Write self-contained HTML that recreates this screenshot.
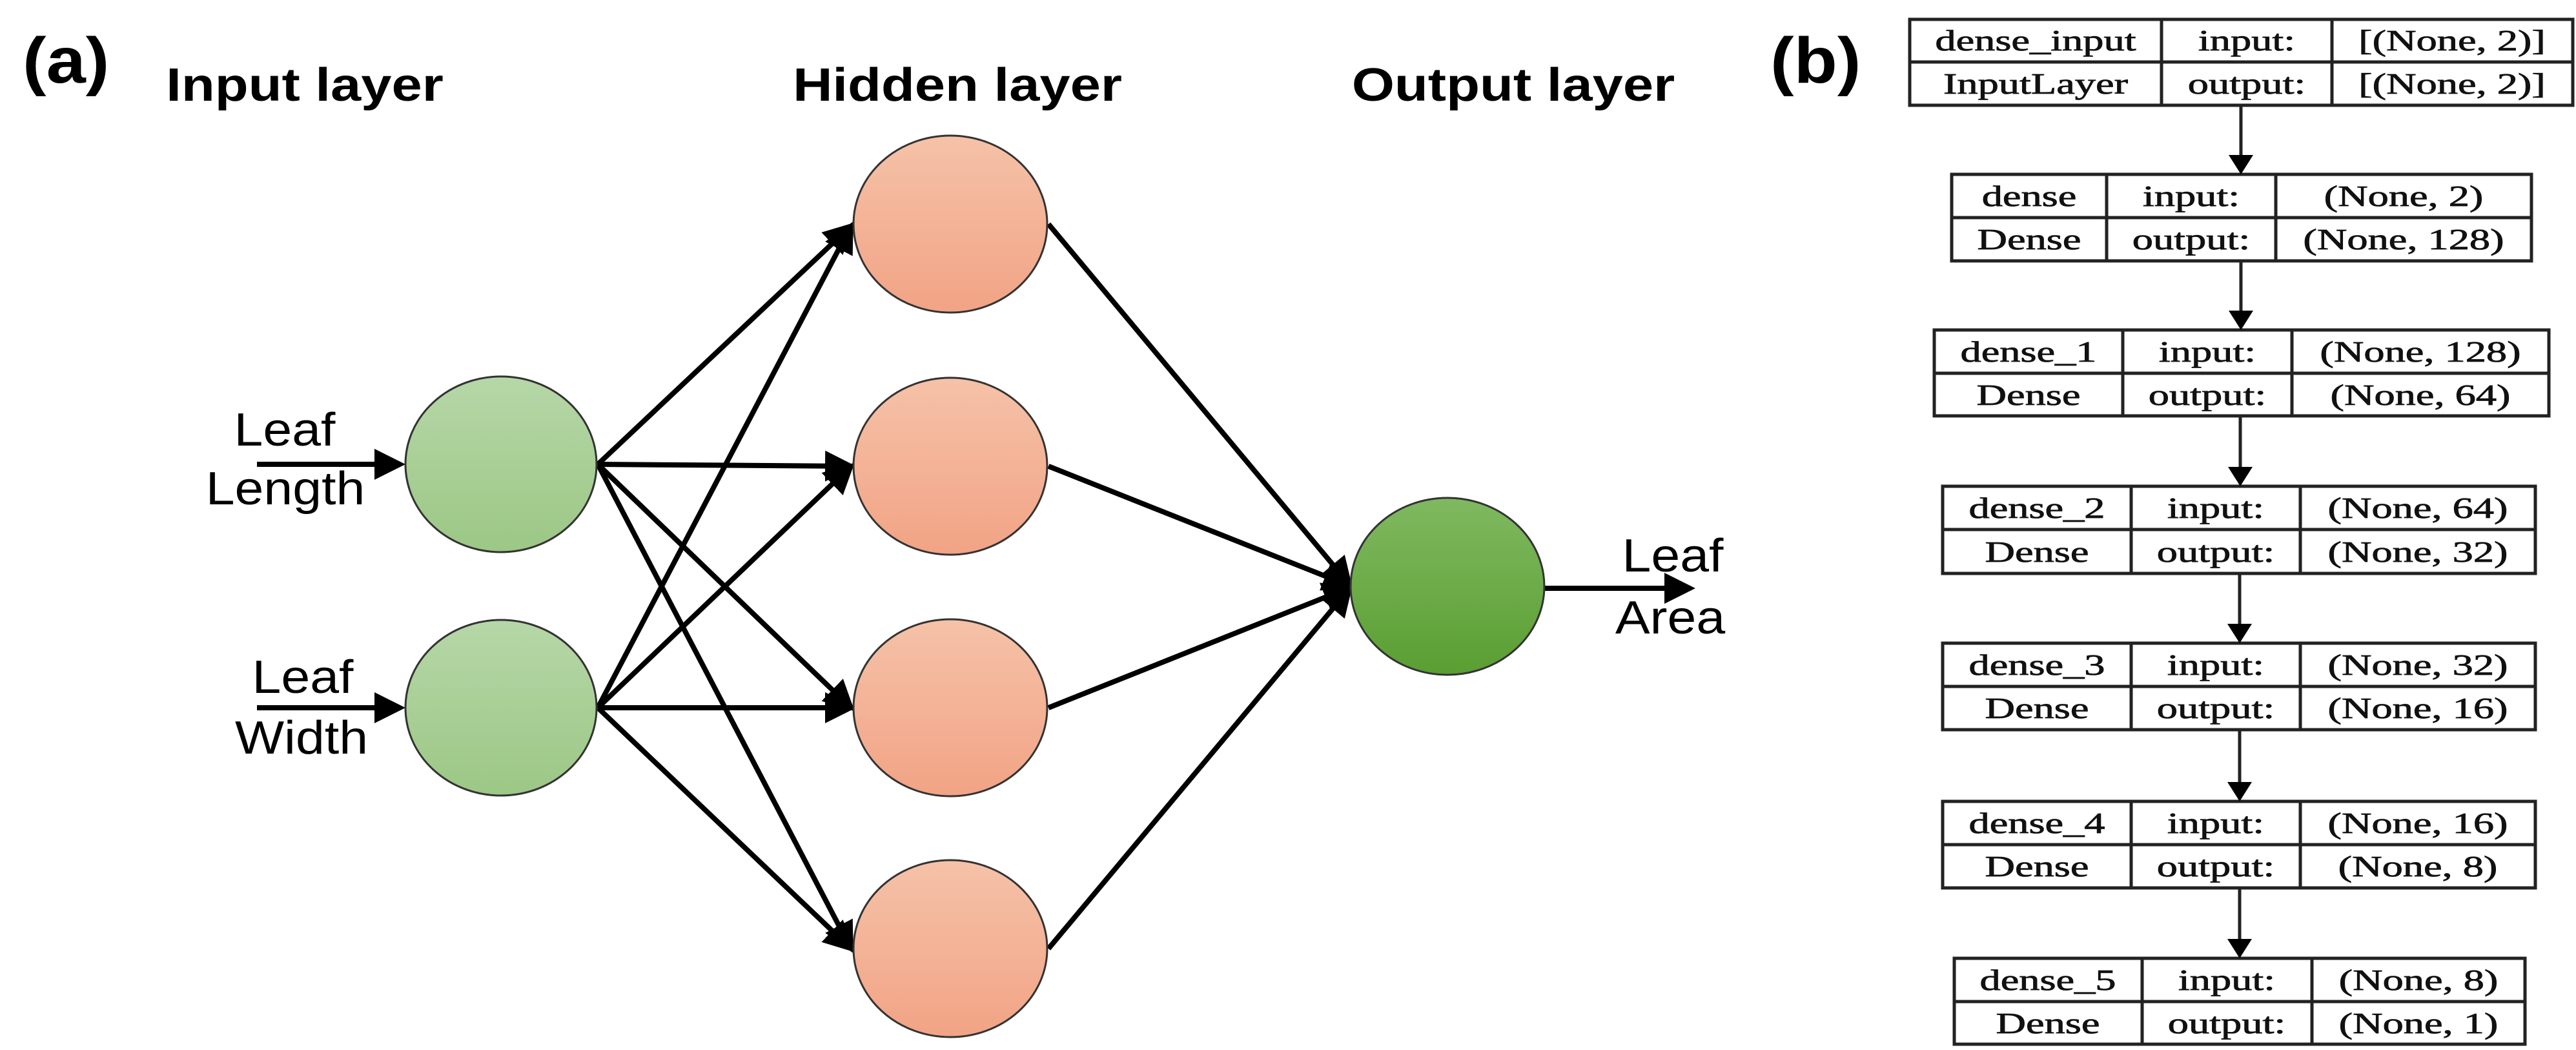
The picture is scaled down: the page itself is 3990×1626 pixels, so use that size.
<!DOCTYPE html>
<html><head><meta charset="utf-8"><style>html,body{margin:0;padding:0;background:#fff}svg{display:block}</style></head>
<body>
<svg width="3990" height="1626" viewBox="0 0 3990 1626" xmlns="http://www.w3.org/2000/svg">
<defs>
<linearGradient id="gi" x1="0" y1="0" x2="0" y2="1"><stop offset="0" stop-color="#b6d7a8"/><stop offset="1" stop-color="#9cc785"/></linearGradient>
<linearGradient id="gh" x1="0" y1="0" x2="0" y2="1"><stop offset="0" stop-color="#f5c2a8"/><stop offset="1" stop-color="#f2a385"/></linearGradient>
<linearGradient id="go" x1="0" y1="0" x2="0" y2="1"><stop offset="0" stop-color="#80b960"/><stop offset="1" stop-color="#5a9e32"/></linearGradient>
<marker id="ah" markerWidth="6" markerHeight="6" refX="5" refY="3" orient="auto" markerUnits="strokeWidth"><path d="M0,0 L6,3 L0,6 z" fill="#000"/></marker>
</defs>
<g font-family="Liberation Sans, Arial, sans-serif" fill="#000">
<text transform="translate(35,128) scale(1.1,1)" font-size="100" font-weight="bold">(a)</text>
<text transform="translate(472,156) scale(1.18,1)" font-size="72" font-weight="bold" text-anchor="middle">Input layer</text>
<text transform="translate(1483,156) scale(1.18,1)" font-size="72" font-weight="bold" text-anchor="middle">Hidden layer</text>
<text transform="translate(2344,156) scale(1.18,1)" font-size="72" font-weight="bold" text-anchor="middle">Output layer</text>
<text transform="translate(441,690) scale(1.12,1)" font-size="72" text-anchor="middle">Leaf</text>
<text transform="translate(442,781) scale(1.12,1)" font-size="72" text-anchor="middle">Length</text>
<text transform="translate(469,1073) scale(1.12,1)" font-size="72" text-anchor="middle">Leaf</text>
<text transform="translate(467,1167) scale(1.12,1)" font-size="72" text-anchor="middle">Width</text>
<text transform="translate(2591,885) scale(1.12,1)" font-size="72" text-anchor="middle">Leaf</text>
<text transform="translate(2587,981) scale(1.12,1)" font-size="72" text-anchor="middle">Area</text>
</g>
<g stroke="#000" stroke-width="8" fill="none" marker-end="url(#ah)">
<line x1="398" y1="719" x2="620" y2="719"/>
<line x1="398" y1="1096" x2="620" y2="1096"/>
<line x1="2393" y1="911" x2="2618" y2="911"/>
<line x1="926" y1="719" x2="1318" y2="350"/>
<line x1="926" y1="719" x2="1318" y2="722"/>
<line x1="926" y1="719" x2="1318" y2="1096"/>
<line x1="926" y1="719" x2="1318" y2="1469"/>
<line x1="926" y1="1096" x2="1318" y2="350"/>
<line x1="926" y1="1096" x2="1318" y2="722"/>
<line x1="926" y1="1096" x2="1318" y2="1096"/>
<line x1="926" y1="1096" x2="1318" y2="1469"/>
<line x1="1624" y1="347" x2="2090" y2="905"/>
<line x1="1624" y1="722" x2="2090" y2="907"/>
<line x1="1624" y1="1096" x2="2090" y2="910"/>
<line x1="1624" y1="1469" x2="2090" y2="912"/>
</g>
<g stroke="#333" stroke-width="3">
<ellipse cx="776" cy="719" rx="148" ry="136" fill="url(#gi)"/>
<ellipse cx="776" cy="1096" rx="148" ry="136" fill="url(#gi)"/>
<ellipse cx="1472" cy="347" rx="150" ry="137" fill="url(#gh)"/>
<ellipse cx="1472" cy="722" rx="150" ry="137" fill="url(#gh)"/>
<ellipse cx="1472" cy="1096" rx="150" ry="137" fill="url(#gh)"/>
<ellipse cx="1472" cy="1469" rx="150" ry="137" fill="url(#gh)"/>
<ellipse cx="2242" cy="908" rx="150" ry="137" fill="url(#go)"/>
</g>
<text transform="translate(2742,128) scale(1.1,1)" font-family="Liberation Sans, Arial, sans-serif" font-size="100" font-weight="bold">(b)</text>
<g stroke="#222" stroke-width="5" fill="none">
<rect x="2958" y="30" width="1027" height="133"/><line x1="2958" y1="96" x2="3985" y2="96"/><line x1="3348" y1="30" x2="3348" y2="163"/><line x1="3612" y1="30" x2="3612" y2="163"/>
<rect x="3023" y="270" width="898" height="134"/><line x1="3023" y1="337" x2="3921" y2="337"/><line x1="3263" y1="270" x2="3263" y2="404"/><line x1="3525" y1="270" x2="3525" y2="404"/>
<rect x="2996" y="511" width="952" height="133"/><line x1="2996" y1="578" x2="3948" y2="578"/><line x1="3288" y1="511" x2="3288" y2="644"/><line x1="3550" y1="511" x2="3550" y2="644"/>
<rect x="3009" y="753" width="918" height="135"/><line x1="3009" y1="820" x2="3927" y2="820"/><line x1="3301" y1="753" x2="3301" y2="888"/><line x1="3563" y1="753" x2="3563" y2="888"/>
<rect x="3009" y="996" width="918" height="134"/><line x1="3009" y1="1063" x2="3927" y2="1063"/><line x1="3301" y1="996" x2="3301" y2="1130"/><line x1="3563" y1="996" x2="3563" y2="1130"/>
<rect x="3009" y="1241" width="918" height="134"/><line x1="3009" y1="1308" x2="3927" y2="1308"/><line x1="3301" y1="1241" x2="3301" y2="1375"/><line x1="3563" y1="1241" x2="3563" y2="1375"/>
<rect x="3027" y="1484" width="884" height="133"/><line x1="3027" y1="1551" x2="3911" y2="1551"/><line x1="3318" y1="1484" x2="3318" y2="1617"/><line x1="3581" y1="1484" x2="3581" y2="1617"/>
<line x1="3471" y1="163" x2="3471" y2="245"/><line x1="3471" y1="404" x2="3471" y2="486"/><line x1="3470" y1="644" x2="3470" y2="728"/><line x1="3469" y1="888" x2="3469" y2="971"/><line x1="3469" y1="1130" x2="3469" y2="1216"/><line x1="3469" y1="1375" x2="3469" y2="1459"/>
</g>
<g fill="#000">
<path d="M3452,240 L3490,240 L3471,270 z"/><path d="M3452,481 L3490,481 L3471,511 z"/><path d="M3451,723 L3489,723 L3470,753 z"/><path d="M3450,966 L3488,966 L3469,996 z"/><path d="M3450,1211 L3488,1211 L3469,1241 z"/><path d="M3450,1454 L3488,1454 L3469,1484 z"/>
</g>
<g font-family="Liberation Serif, 'Times New Roman', serif" font-size="46" fill="#111" stroke="#111" stroke-width="0.8" text-anchor="middle">
<text transform="translate(3153,78) scale(1.4,1)">dense_input</text><text transform="translate(3480,78) scale(1.4,1)">input:</text><text transform="translate(3798,78) scale(1.4,1)">[(None, 2)]</text>
<text transform="translate(3153,145) scale(1.4,1)">InputLayer</text><text transform="translate(3480,145) scale(1.4,1)">output:</text><text transform="translate(3798,145) scale(1.4,1)">[(None, 2)]</text>
<text transform="translate(3143,319) scale(1.4,1)">dense</text><text transform="translate(3394,319) scale(1.4,1)">input:</text><text transform="translate(3723,319) scale(1.4,1)">(None, 2)</text>
<text transform="translate(3143,386) scale(1.4,1)">Dense</text><text transform="translate(3394,386) scale(1.4,1)">output:</text><text transform="translate(3723,386) scale(1.4,1)">(None, 128)</text>
<text transform="translate(3142,560) scale(1.4,1)">dense_1</text><text transform="translate(3419,560) scale(1.4,1)">input:</text><text transform="translate(3749,560) scale(1.4,1)">(None, 128)</text>
<text transform="translate(3142,627) scale(1.4,1)">Dense</text><text transform="translate(3419,627) scale(1.4,1)">output:</text><text transform="translate(3749,627) scale(1.4,1)">(None, 64)</text>
<text transform="translate(3155,802) scale(1.4,1)">dense_2</text><text transform="translate(3432,802) scale(1.4,1)">input:</text><text transform="translate(3745,802) scale(1.4,1)">(None, 64)</text>
<text transform="translate(3155,870) scale(1.4,1)">Dense</text><text transform="translate(3432,870) scale(1.4,1)">output:</text><text transform="translate(3745,870) scale(1.4,1)">(None, 32)</text>
<text transform="translate(3155,1045) scale(1.4,1)">dense_3</text><text transform="translate(3432,1045) scale(1.4,1)">input:</text><text transform="translate(3745,1045) scale(1.4,1)">(None, 32)</text>
<text transform="translate(3155,1112) scale(1.4,1)">Dense</text><text transform="translate(3432,1112) scale(1.4,1)">output:</text><text transform="translate(3745,1112) scale(1.4,1)">(None, 16)</text>
<text transform="translate(3155,1290) scale(1.4,1)">dense_4</text><text transform="translate(3432,1290) scale(1.4,1)">input:</text><text transform="translate(3745,1290) scale(1.4,1)">(None, 16)</text>
<text transform="translate(3155,1357) scale(1.4,1)">Dense</text><text transform="translate(3432,1357) scale(1.4,1)">output:</text><text transform="translate(3745,1357) scale(1.4,1)">(None, 8)</text>
<text transform="translate(3172,1533) scale(1.4,1)">dense_5</text><text transform="translate(3449,1533) scale(1.4,1)">input:</text><text transform="translate(3746,1533) scale(1.4,1)">(None, 8)</text>
<text transform="translate(3172,1600) scale(1.4,1)">Dense</text><text transform="translate(3449,1600) scale(1.4,1)">output:</text><text transform="translate(3746,1600) scale(1.4,1)">(None, 1)</text>
</g>
</svg>
</body></html>
